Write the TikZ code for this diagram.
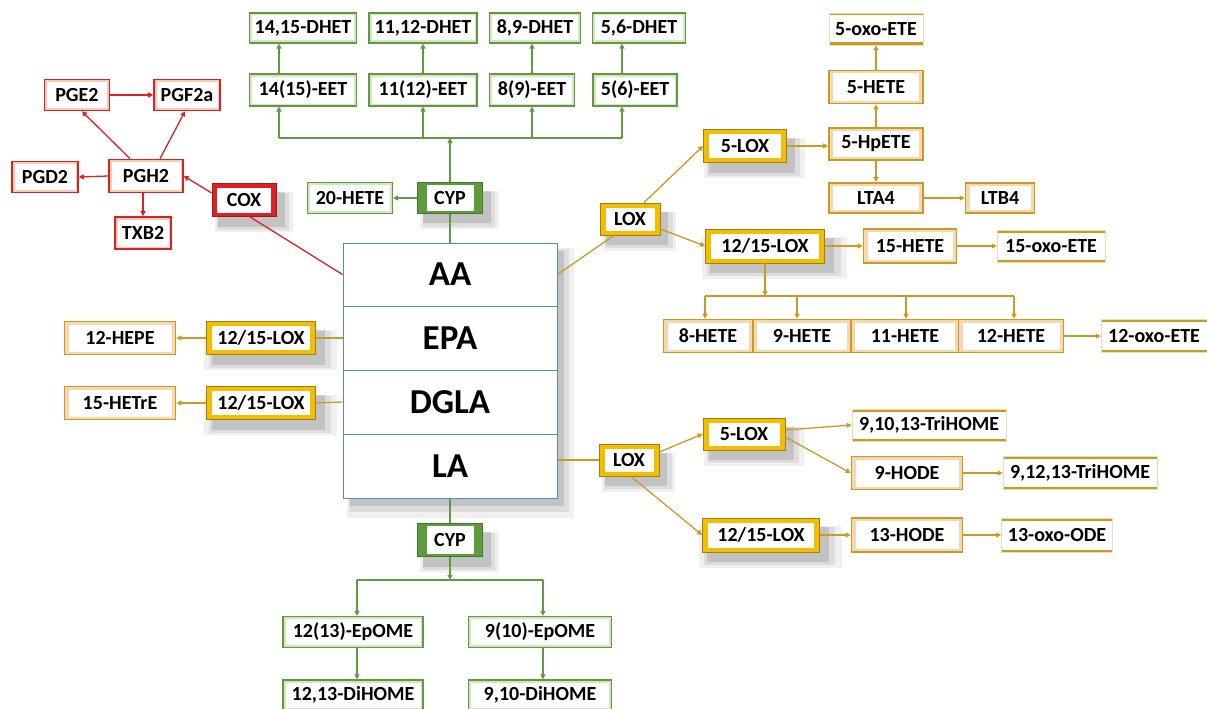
\documentclass[tikz,border=0pt]{standalone}
\usepackage{fontspec}
\setmainfont{Carlito}
\usetikzlibrary{arrows.meta,shadows}
\definecolor{rd}{HTML}{DD1F26}
\definecolor{rdl}{HTML}{F7CDB8}
\definecolor{gn}{HTML}{5F9A3E}
\definecolor{gnd}{HTML}{3F7A25}
\definecolor{gnl}{HTML}{D3E7C3}
\definecolor{gd}{HTML}{C99B22}
\definecolor{gdf}{HTML}{F2BE00}
\definecolor{gdl}{HTML}{F8D6B0}
\definecolor{bl}{HTML}{4F8CC9}
\tikzset{
  lbl/.style={inner sep=0pt, font=\bfseries\fontsize{20}{22}\selectfont, text=black},
  inset/.style 2 args={path picture={\fill[white] ([shift={(#1,#2)}]path picture bounding box.south west) rectangle ([shift={(-#1,-#2)}]path picture bounding box.north east);}},
  shd/.style={
    general shadow={fill=black, opacity=0.06, shadow xshift=8pt, shadow yshift=-10pt, shadow scale=1.22},
    general shadow={fill=black, opacity=0.08, shadow xshift=8pt, shadow yshift=-10pt, shadow scale=1.12},
    general shadow={fill=black, opacity=0.12, shadow xshift=7pt, shadow yshift=-9pt, shadow scale=1.04}},
  bigshd/.style={
    general shadow={fill=black, opacity=0.06, shadow xshift=10pt, shadow yshift=-12pt, shadow scale=1.06},
    general shadow={fill=black, opacity=0.08, shadow xshift=9pt, shadow yshift=-10pt, shadow scale=1.03},
    general shadow={fill=black, opacity=0.12, shadow xshift=7pt, shadow yshift=-8pt}},
  rbox/.style={lbl, draw=rd, line width=1.6pt, fill=rdl, inset={2.5pt}{2.5pt}},
  coxbox/.style={lbl, draw=rd!75!black, line width=0.8pt, fill=rd, inset={5pt}{4pt}, shd},
  gbox/.style={lbl, draw=gn, line width=1.2pt, fill=gnl, inset={2.5pt}{2.5pt}},
  cypbox/.style={lbl, draw=gnd, line width=0.8pt, fill=gn, inset={9pt}{2.5pt}, shd},
  ybox/.style={lbl, draw=gd!80!black, line width=0.8pt, fill=gdf, inset={5.5pt}{4.5pt}, shd},
  pbox/.style={lbl, draw=gd, line width=1.6pt, fill=gdl, inset={4pt}{3pt}},
  obox/.style={lbl, fill=white, draw=gd!35, line width=0.5pt,
    path picture={\fill[gd] (path picture bounding box.south west) rectangle ([yshift=2.5pt]path picture bounding box.south east);
                  \fill[gd] ([yshift=-2.5pt]path picture bounding box.north west) rectangle (path picture bounding box.north east);}},
  acid/.style={inner sep=0pt, font=\bfseries\fontsize{35}{37}\selectfont, draw=bl, line width=1pt, fill=white, minimum width=214pt},
  tip/.style={-{Triangle[length=5pt,width=5pt]}},
  rl/.style={draw=rd, line width=1.3pt},
  gl/.style={draw=gn, line width=1.3pt},
  yl/.style={draw=gd, line width=1.3pt},
}
\begin{document}
\begin{tikzpicture}[x=1pt,y=-1pt]
\useasboundingbox (0,0) rectangle (1207,709);

% ---------- central box ----------
\node[draw=bl, fill=white, minimum width=214pt, minimum height=255pt, bigshd] (acidbox) at (450,370.5) {};
\node[acid, minimum height=63pt] (aa) at (450,274.5) {AA};
\node[acid, minimum height=64pt] (epa) at (450,338) {EPA};
\node[acid, minimum height=64pt] (dgla) at (450,402) {DGLA};
\node[acid, minimum height=64pt] (la) at (450,466) {LA};

% ---------- COX branch (red) ----------
\node[rbox, minimum width=65pt, minimum height=31pt] (pge2) at (77,95) {PGE2};
\node[rbox, minimum width=66pt, minimum height=31pt] (pgf2a) at (187,95) {PGF2a};
\node[rbox, minimum width=74pt, minimum height=33pt] (pgh2) at (146,176) {PGH2};
\node[rbox, minimum width=66pt, minimum height=31pt] (pgd2) at (45,177) {PGD2};
\node[rbox, minimum width=56pt, minimum height=32pt] (txb2) at (143,233) {TXB2};
\node[coxbox, minimum width=64pt, minimum height=33pt] (cox) at (244,200) {COX};

\draw[rl] ([xshift=6pt]cox.south) -- (aa.west);
\draw[rl,tip] ([yshift=7pt]cox.west) -- (pgh2.east);
\draw[rl,tip] ([xshift=-16pt]pgh2.north) -- ([xshift=5pt]pge2.south);
\draw[rl,tip] ([xshift=14pt]pgh2.north) -- ([xshift=-2pt]pgf2a.south);
\draw[rl,tip] (pge2.east) -- (pgf2a.west);
\draw[rl,tip] (pgh2.west) -- (pgd2.east);
\draw[rl,tip] (pgh2.south -| txb2) -- (txb2.north);

% ---------- CYP branch top (green) ----------
\node[cypbox, minimum width=65pt, minimum height=31pt] (cyp) at (450,198) {CYP};
\node[gbox, minimum width=85pt, minimum height=31pt] (hete20) at (350,198) {20-HETE};
\node[gbox, minimum width=107pt, minimum height=32pt] (eet1415) at (303,90) {14(15)-EET};
\node[gbox, minimum width=108pt, minimum height=32pt] (eet1112) at (423,90) {11(12)-EET};
\node[gbox, minimum width=85pt, minimum height=32pt] (eet89) at (532,90) {8(9)-EET};
\node[gbox, minimum width=84pt, minimum height=32pt] (eet56) at (635,90) {5(6)-EET};
\node[gbox, minimum width=107pt, minimum height=30pt] (dhet1415) at (303,28) {14,15-DHET};
\node[gbox, minimum width=108pt, minimum height=30pt] (dhet1112) at (423,28) {11,12-DHET};
\node[gbox, minimum width=91pt, minimum height=30pt] (dhet89) at (535,28) {8,9-DHET};
\node[gbox, minimum width=93pt, minimum height=30pt] (dhet56) at (639,28) {5,6-DHET};

\coordinate (b1) at (279,138);
\coordinate (b2) at (423,138);
\coordinate (b3) at (532,138);
\coordinate (b4) at (622,138);
\draw[gl] (aa.north) -- (cyp.south);
\draw[gl,tip] (cyp.west) -- (hete20.east);
\draw[gl,tip] (cyp.north) -- (cyp.north |- b1);
\draw[gl] (b1) -- (b4);
\draw[gl,tip] (b1) -- (b1 |- eet1415.south);
\draw[gl,tip] (b2) -- (b2 |- eet1112.south);
\draw[gl,tip] (b3) -- (b3 |- eet89.south);
\draw[gl,tip] (b4) -- (b4 |- eet56.south);
\draw[gl,tip] (b1 |- eet1415.north) -- (b1 |- dhet1415.south);
\draw[gl,tip] (b2 |- eet1112.north) -- (b2 |- dhet1112.south);
\draw[gl,tip] (b3 |- eet89.north) -- (b3 |- dhet89.south);
\draw[gl,tip] (b4 |- eet56.north) -- (b4 |- dhet56.south);

% ---------- LOX branch from AA (gold) ----------
\node[ybox, minimum width=60pt, minimum height=32pt] (loxU) at (630,219) {LOX};
\node[ybox, minimum width=83pt, minimum height=33pt] (lox5U) at (745,146) {5-LOX};
\node[pbox, minimum width=94pt, minimum height=32pt] (hpete) at (876,144) {5-HpETE};
\node[pbox, minimum width=94pt, minimum height=33pt] (hete5) at (876,87) {5-HETE};
\node[obox, minimum width=94pt, minimum height=32pt] (oxoete5) at (876,29) {5-oxo-ETE};
\node[pbox, minimum width=94pt, minimum height=30pt] (lta4) at (876,198) {LTA4};
\node[pbox, minimum width=69pt, minimum height=30pt] (ltb4) at (1000,198) {LTB4};
\node[ybox, minimum width=119pt, minimum height=34pt] (lox1215U) at (765,246) {12/15-LOX};
\node[pbox, minimum width=93pt, minimum height=34pt] (hete15) at (910,246) {15-HETE};
\node[obox, minimum width=108pt, minimum height=32pt] (oxoete15) at (1051,246) {15-oxo-ETE};
\node[pbox, minimum width=89pt, minimum height=33pt] (hete8) at (708,336) {8-HETE};
\node[pbox, minimum width=98pt, minimum height=33pt] (hete9) at (802,336) {9-HETE};
\node[pbox, minimum width=108pt, minimum height=33pt] (hete11) at (905,336) {11-HETE};
\node[pbox, minimum width=105pt, minimum height=33pt] (hete12) at (1011,336) {12-HETE};
\node[obox, minimum width=106pt, minimum height=33pt] (oxoete12) at (1154,336) {12-oxo-ETE};

\coordinate (c1) at (705,296);
\coordinate (c2) at (797,296);
\coordinate (c3) at (906,296);
\coordinate (c4) at (1014,296);
\draw[yl] (aa.east) -- ([xshift=-16pt]loxU.south);
\draw[yl,tip] ([xshift=14pt]loxU.north) -- (lox5U.west);
\draw[yl,tip] ([yshift=-10pt]loxU.east) -- (lox1215U.west);
\draw[yl,tip] (lox5U.east) -- (lox5U.east -| hpete.west);
\draw[yl,tip] (hpete.north) -- (hete5.south);
\draw[yl,tip] (hete5.north) -- (oxoete5.south);
\draw[yl,tip] (hpete.south) -- (lta4.north);
\draw[yl,tip] (lta4.east) -- (ltb4.west);
\draw[yl,tip] (lox1215U.east) -- (hete15.west);
\draw[yl,tip] (hete15.east) -- (oxoete15.west);
\draw[yl,tip] (lox1215U.south) -- (lox1215U.south |- c1);
\draw[yl] (c1) -- (c4);
\draw[yl,tip] (c1) -- (c1 |- hete8.north);
\draw[yl,tip] (c2) -- (c2 |- hete9.north);
\draw[yl,tip] (c3) -- (c3 |- hete11.north);
\draw[yl,tip] (c4) -- (c4 |- hete12.north);
\draw[yl,tip] (hete12.east) -- (oxoete12.west);

% ---------- EPA / DGLA (gold, left) ----------
\node[ybox, minimum width=109pt, minimum height=33pt] (loxE) at (261,338) {12/15-LOX};
\node[pbox, minimum width=111pt, minimum height=33pt] (hepe12) at (120,338) {12-HEPE};
\node[ybox, minimum width=109pt, minimum height=33pt] (loxD) at (261,403) {12/15-LOX};
\node[pbox, minimum width=111pt, minimum height=33pt] (hetre15) at (120,403) {15-HETrE};
\draw[yl] (epa.west) -- (loxE.east);
\draw[yl,tip] (loxE.west) -- (hepe12.east);
\draw[yl] (dgla.west) -- (loxD.east);
\draw[yl,tip] (loxD.west) -- (hetre15.east);

% ---------- LA: LOX (gold) ----------
\node[ybox, minimum width=60pt, minimum height=32pt] (loxL) at (629,460) {LOX};
\node[ybox, minimum width=82pt, minimum height=32pt] (lox5L) at (744,434) {5-LOX};
\node[obox, minimum width=154pt, minimum height=32pt] (trihomeA) at (929,425) {9,10,13-TriHOME};
\node[pbox, minimum width=111pt, minimum height=33pt] (hode9) at (907,473) {9-HODE};
\node[obox, minimum width=154pt, minimum height=33pt] (trihomeB) at (1080,473) {9,12,13-TriHOME};
\node[ybox, minimum width=117pt, minimum height=34pt] (lox1215L) at (761,535) {12/15-LOX};
\node[pbox, minimum width=111pt, minimum height=34pt] (hode13) at (907,535) {13-HODE};
\node[obox, minimum width=111pt, minimum height=34pt] (oxoode13) at (1057,535) {13-oxo-ODE};
\draw[yl] (la.east |- loxL) -- (loxL.west);
\draw[yl,tip] ([yshift=8pt]loxL.east) -- (lox5L.west);
\draw[yl,tip] ([xshift=2pt]loxL.south) -- (lox1215L.west);
\draw[yl,tip] ([yshift=4pt]lox5L.east) -- (trihomeA.west);
\draw[yl,tip] ([yshift=-3pt]lox5L.east) -- (hode9.west);
\draw[yl,tip] (hode9.east) -- (trihomeB.west);
\draw[yl,tip] (lox1215L.east) -- (hode13.west);
\draw[yl,tip] (hode13.east) -- (oxoode13.west);

% ---------- LA: CYP (green, bottom) ----------
\node[cypbox, minimum width=65pt, minimum height=33pt] (cypB) at (450,540) {CYP};
\node[gbox, minimum width=140pt, minimum height=31pt] (epomeA) at (353,632) {12(13)-EpOME};
\node[gbox, minimum width=143pt, minimum height=31pt] (epomeB) at (540,632) {9(10)-EpOME};
\node[gbox, minimum width=140pt, minimum height=30pt] (dihomeA) at (353,695) {12,13-DiHOME};
\node[gbox, minimum width=143pt, minimum height=30pt] (dihomeB) at (540,695) {9,10-DiHOME};
\coordinate (d1) at (357,580);
\coordinate (d2) at (543,580);
\draw[gl] (la.south) -- (cypB.north);
\draw[gl,tip] (cypB.south) -- (cypB.south |- d1);
\draw[gl] (d1) -- (d2);
\draw[gl,tip] (d1) -- (d1 |- epomeA.north);
\draw[gl,tip] (d2) -- (d2 |- epomeB.north);
\draw[gl,tip] (d1 |- epomeA.south) -- (d1 |- dihomeA.north);
\draw[gl,tip] (d2 |- epomeB.south) -- (d2 |- dihomeB.north);
\end{tikzpicture}
\end{document}
